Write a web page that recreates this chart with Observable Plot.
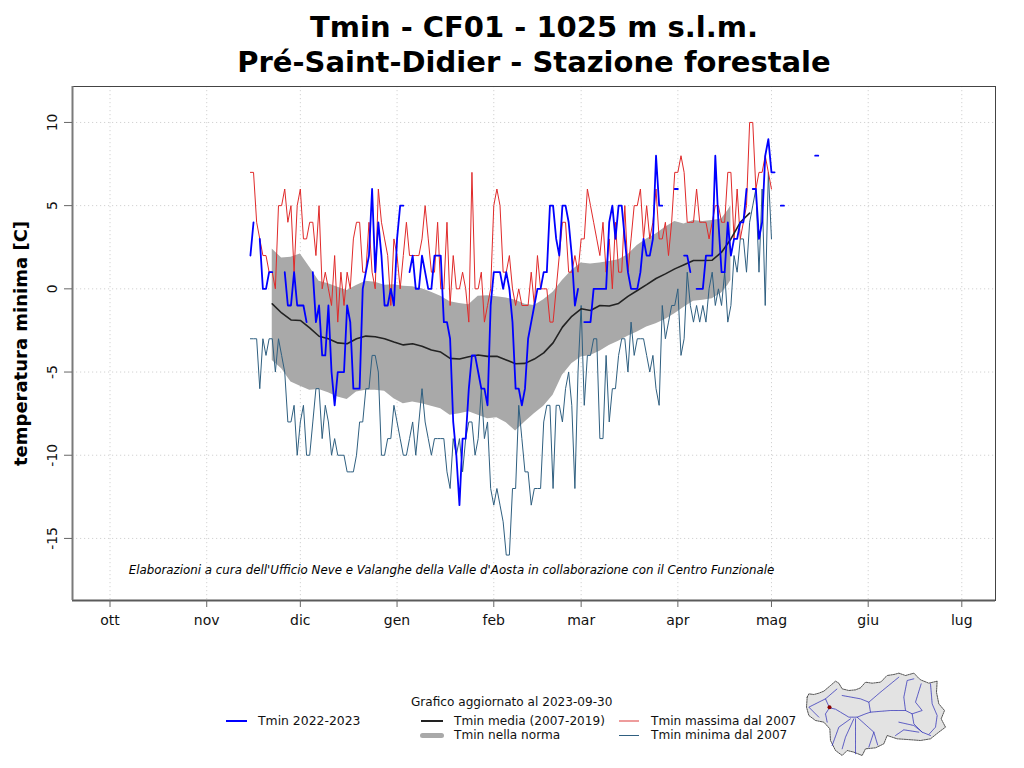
<!DOCTYPE html>
<html lang="it">
<head>
<meta charset="utf-8">
<title>Tmin - CF01</title>
<script src="https://cdn.jsdelivr.net/npm/d3@7"></script>
<script src="https://cdn.jsdelivr.net/npm/@observablehq/plot@0.6"></script>
<style>
  html, body { margin: 0; padding: 0; background: #fff; }
  body { width: 1024px; height: 768px; position: relative; overflow: hidden; font-family: "DejaVu Sans", sans-serif; }
  #title { position: absolute; left: 44px; width: 980px; top: 10px; text-align: center; font-weight: bold; font-size: 29px; line-height: 35px; color: #000; }
  #chart { position: absolute; left: 0; top: 85px; }
  #map { position: absolute; left: 806px; top: 670px; }
  .lg { position: absolute; font-size: 12.1px; line-height: 14px; color: #111; white-space: nowrap; }
  .sw { position: absolute; }
</style>
</head>
<body>
<div id="title">Tmin - CF01 - 1025 m s.l.m.<br>Pré-Saint-Didier - Stazione forestale</div>
<div id="chart"></div>
<div id="map"></div>
<script>
// Days are counted from 1 October; daily series start on 15 November (day 45).
const monthLabels = ["ott","nov","dic","gen","feb","mar","apr","mag","giu","lug"];
const monthDays = [0,31,61,92,123,151,182,212,243,273];
const yTicks = [-15,-10,-5,0,5,10];
const startDay = 45;

const tminCurrent = [
  2,4,null,3,0,0,1,1,null,null,
  null,1,-1,-1,1,-1,-1,-1,-2,null,
  1,-2,-1,-4,-4,-1,-5,-7,-5,-5,
  -5,-1,-2,-6,-6,-6,0,1,2,6,
  1,4,2,-1,-1,0,-1,3,5,5,
  null,1,2,0,0,2,1,0,0,2,
  2,2,-2,-2,-3,-8,-10,-13,-9,-9,
  -6,-4,-4,-5,-6,-6,-7,-1,1,1,
  1,0,1,0,-2,-6,-6,-7,-6,-3,
  -2,-1,0,0,1,1,5,5,3,2,
  5,5,4,2,-1,0,null,-2,-2,-2,
  0,0,0,0,0,4,5,3,5,5,
  3,1,0,0,0,1,3,2,2,3,
  8,5,5,null,null,null,6,6,null,2,
  2,1,null,0,0,0,2,2,2,8,
  4,1,1,4,2,3,3,4,4,6,
  null,6,6,3,4,8,9,7,7,null,
  5,5,null,null,null,null,null,null,null,null,
  null,8,8
];
const tminMax = [
  7,7,4,3,2,2,1,1,0,5,
  5,6,4,5,1,5,6,3,3,4,
  4,2,5,0,1,0,-1,2,-2,1,
  -1,1,0,3,4,4,1,1,4,1,
  0,6,4,3,2,-1,3,2,0,2,
  4,2,2,2,2,3,5,3,1,1,
  4,0,0,4,-1,2,0,0,1,0,
  -2,7,0,0,1,-2,-1,0,5,6,
  5,1,1,2,0,-1,0,-1,-1,-1,
  1,-1,2,0,0,0,-2,-2,0,2,
  4,4,1,1,2,1,3,3,6,5,
  4,3,2,4,1,3,0,4,1,1,
  5,1,3,5,5,6,3,5,3,4,
  6,3,3,4,2,4,7,7,8,7,
  4,4,4,6,4,4,4,3,4,5,
  5,4,4,7,7,3,6,3,4,5,
  10,10,6,7,7,8,7,6
];
const tminMin = [
  -3,-3,-3,-6,-3,-4,-3,-3,-5,-3,
  -4,-5,-8,-8,-7,-10,-8,-7,-10,-10,
  -8,-6,-6,-9,-7,-8,-10,-9,-10,-10,
  -10,-11,-11,-11,-10,-8,-8,-6,-6,-4,
  -4,-5,-10,-10,-9,-9,-7,-8,-9,-10,
  -10,-9,-8,-10,-8,-6,-8,-9,-10,-9,
  -9,-9,-9,-11,-12,-9,-10,-9,-11,-9,
  -8,-8,-10,-9,-6,-9,-8,-12,-13,-12,
  -13,-14,-16,-16,-12,-12,-7,-9,-11,-11,
  -13,-12,-12,-12,-8,-7,-7,-12,-7,-7,
  -8,-6,-5,-7,-12,-5,-1,-7,-4,-4,
  -3,-3,-9,-9,-4,-8,-6,-6,-4,-3,
  -3,-5,-2,-4,-3,-3,-3,-4,-5,-4,
  -6,-7,-1,-3,-2,-1,-1,0,-4,-3,
  1,-1,-2,-1,-2,-1,-2,0,1,-1,
  0,-1,1,-2,-1,2,1,3,3,1,
  4,5,6,1,6,-1,7,3
];

// Smoothed climatology, read every third day starting at day 52.
const bandOffsets = [7,10,13,16,19,22,25,28,31,34,37,40,43,46,49,52,55,58,61,64,67,70,73,76,79,82,85,88,91,94,97,100,103,106,109,112,115,118,121,124,127,130,133,136,139,142,145,148,151,153,154];
const bandUpper = [2.4,1.85,1.9,2.1,1.3,0.45,0.3,0.1,-0.1,0.2,0.45,0.4,0.22,0.25,0.15,0.12,0,-0.2,-0.45,-0.78,-0.88,-0.95,-0.44,-0.42,-0.47,-0.55,-0.68,-0.92,-1,-0.65,-0.2,0.5,1.1,1.55,1.5,1.55,1.65,1.75,2.05,2.6,3,3.3,3.7,4.05,3.9,4.1,4.05,4.1,4.2,4.7,5];
const bandLower = [-4.3,-4.8,-5.6,-5.85,-6.1,-6.05,-6.25,-6.5,-6.65,-6.2,-6.1,-6.1,-6.15,-6.6,-6.9,-6.8,-6.9,-7.05,-7.2,-7.6,-7.5,-7.38,-7.6,-7.8,-7.75,-8.05,-8.55,-8,-7.5,-7.05,-6.4,-5.2,-4.5,-4.1,-4,-3.75,-3.4,-3.15,-2.85,-2.6,-2.3,-2.1,-1.85,-1.5,-1.1,-0.75,-0.68,-0.6,-0.25,0.2,0.5];
const meanOffsets = [7,10,13,16,19,22,25,28,31,34,37,40,43,46,49,52,55,58,61,64,67,70,73,76,79,82,85,88,91,94,97,100,103,106,109,112,115,118,121,124,127,130,133,136,139,142,145,148,151,154,157,160];
const tminMean = [-0.9,-1.45,-1.87,-1.9,-2.35,-2.85,-3,-3.25,-3.3,-3,-2.84,-2.88,-3,-3.2,-3.37,-3.3,-3.45,-3.68,-3.8,-4.18,-4.22,-4.08,-3.98,-4.06,-4.05,-4.27,-4.5,-4.48,-4.22,-3.85,-3.25,-2.3,-1.65,-1.2,-1.3,-1,-1.03,-0.88,-0.45,-0.1,0.25,0.62,0.9,1.2,1.45,1.7,1.7,1.72,2.2,3,4,4.55];

const legendUpdated = "Grafico aggiornato al 2023-09-30";
const creditText = "Elaborazioni a cura dell'Ufficio Neve e Valanghe della Valle d'Aosta in collaborazione con il Centro Funzionale";
const seriesColors = {current:"#0000ff", mean:"#222222", band:"#a9a9a9", max:"#e02a2a", min:"#2f5f80"};

const daily = arr => arr.map((_, i) => startDay + i);
const plus = arr => arr.map(o => startDay + o);
const xDomain = [-12.02, 283.8];
const yDomain = [-18.73, 12.16];

const chart = Plot.plot({
  width: 1024, height: 556,
  marginTop: 1, marginLeft: 72, marginRight: 29, marginBottom: 41,
  style: {fontFamily: "'DejaVu Sans', sans-serif", background: "#fff", overflow: "visible"},
  x: {domain: xDomain, label: null},
  y: {domain: yDomain, label: null},
  marks: [
    Plot.gridX(monthDays, {stroke: "#d2d2d2", strokeOpacity: 1, strokeDasharray: "1.2,2.8"}),
    Plot.gridY(yTicks, {stroke: "#d2d2d2", strokeOpacity: 1, strokeDasharray: "1.2,2.8"}),
    Plot.areaY(plus(bandOffsets), {x: plus(bandOffsets), y1: bandUpper, y2: bandLower, fill: seriesColors.band}),
    Plot.line(tminMin, {x: daily(tminMin), y: tminMin, stroke: seriesColors.min, strokeWidth: 1, curve: "linear"}),
    Plot.line(tminMax, {x: daily(tminMax), y: tminMax, stroke: seriesColors.max, strokeWidth: 1, curve: "linear"}),
    Plot.line(meanOffsets, {x: plus(meanOffsets), y: tminMean, stroke: seriesColors.mean, strokeWidth: 1.6, curve: "linear"}),
    Plot.line(tminCurrent, {x: daily(tminCurrent), y: tminCurrent, stroke: seriesColors.current, strokeWidth: 1.8, curve: "linear"}),
    Plot.text([creditText], {x: 6, y: -16.9, textAnchor: "start", fontStyle: "italic", fontSize: 11.83, fill: "#000"}),
    Plot.frame({stroke: "#444", strokeWidth: 1}),
    Plot.ruleY([yDomain[0]], {stroke: "#5a5a5a", strokeWidth: 2}),
    Plot.ruleX([xDomain[0]], {stroke: "#7a7a7a", strokeWidth: 2}),
    Plot.axisX(monthDays, {tickFormat: (d, i) => monthLabels[i], tickSize: 7, tickPadding: 8, fontSize: 14, stroke: "#666", label: null, color: "#111"}),
    Plot.axisY(yTicks, {tickSize: 8, tickPadding: 8, tickRotate: -90, fontSize: 14, stroke: "#666", tickFormat: d => String(d), label: null, color: "#111"}),
    Plot.text(["temperatura minima [C]"], {frameAnchor: "left", dx: -51, rotate: -90, fontWeight: "bold", fontSize: 18, fill: "#000", textAnchor: "middle"})
  ]
});
document.getElementById("chart").appendChild(chart);

// Legend below the chart
const legendItems = [
  {text: legendUpdated, x: 411, y: 695},
  {text: "Tmin 2022-2023", x: 258, y: 714, sw: [226, 247, 2, seriesColors.current], size: 12.4},
  {text: "Tmin media (2007-2019)", x: 454, y: 714, sw: [421, 443, 2, seriesColors.mean]},
  {text: "Tmin nella norma", x: 454, y: 728, sw: [420, 444, 5, seriesColors.band]},
  {text: "Tmin massima dal 2007", x: 651, y: 714, sw: [619, 639, 2, "#ee9c9c"]},
  {text: "Tmin minima dal 2007", x: 651, y: 728, sw: [619, 639, 1, seriesColors.min]}
];
for (const it of legendItems) {
  const t = document.createElement("div");
  t.className = "lg"; t.textContent = it.text;
  t.style.left = it.x + "px"; t.style.top = it.y + "px";
  if (it.size) t.style.fontSize = it.size + "px";
  document.body.appendChild(t);
  if (it.sw) {
    const [x0, x1, h, c] = it.sw;
    const s = document.createElement("div");
    s.className = "sw";
    s.style.cssText += `left:${x0}px;width:${x1 - x0}px;top:${it.y + 7 - Math.floor(h / 2)}px;height:${h}px;background:${c};border-radius:${h > 2 ? h / 2 : 0}px`;
    document.body.appendChild(s);
  }
}

// Location map of the Valle d'Aosta, drawn in its own small plot
const mapOutline = [[50,110],[55,100],[70,102],[85,98],[100,92],[120,75],[135,62],[145,68],[155,85],[175,90],[195,88],[210,82],[225,65],[245,68],[270,65],[290,45],[310,42],[325,38],[345,45],[370,38],[390,58],[415,68],[440,62],[438,95],[445,130],[462,150],[452,175],[465,200],[445,215],[420,235],[390,240],[350,237],[320,235],[290,225],[280,250],[255,262],[225,265],[215,285],[190,275],[170,270],[155,285],[135,270],[120,240],[118,205],[100,185],[75,180],[55,165],[48,140],[50,110]];
const mapRivers = [
  [[117,142],[135,146],[150,155],[175,170],[200,170],[225,160],[240,155],[300,150],[345,150],[365,160],[370,190],[395,215],[420,225]],
  [[117,142],[105,160],[110,185]],
  [[117,142],[105,115],[55,140],[85,170]],
  [[105,115],[140,85]],
  [[155,105],[210,115],[235,125],[240,155]],
  [[235,125],[270,95],[325,50]],
  [[345,150],[340,110],[350,60],[370,55]],
  [[365,160],[395,150],[375,125],[392,70]],
  [[420,70],[425,130],[440,165],[435,200],[415,222]],
  [[395,215],[370,195],[325,185]],
  [[385,215],[340,208],[315,225]],
  [[200,170],[250,215],[262,255]],
  [[250,215],[235,260]],
  [[195,175],[195,280]],
  [[190,175],[165,230],[155,265]],
  [[180,175],[145,200],[125,255]]
];
const mapStation = [[117,140]];
const riverPoints = mapRivers.flatMap((r, k) => r.map(p => ({x: p[0], y: p[1], k})));
const map = Plot.plot({
  width: 142, height: 86, margin: 0, axis: null,
  style: {background: "transparent"},
  x: {domain: [48, 474]}, y: {domain: [30, 288], reverse: true},
  marks: [
    Plot.line(mapOutline, {x: d => d[0], y: d => d[1], fill: "#e3e3e3", stroke: "#111", strokeWidth: 0.7, strokeDasharray: "1.5,1"}),
    Plot.line(riverPoints, {x: "x", y: "y", z: "k", stroke: "#2a2ab8", strokeWidth: 0.7, strokeDasharray: "2,0.6"}),
    Plot.dot(mapStation, {x: d => d[0], y: d => d[1], r: 2, fill: "#8b0000"})
  ]
});
document.getElementById("map").appendChild(map);
</script>
</body>
</html>
